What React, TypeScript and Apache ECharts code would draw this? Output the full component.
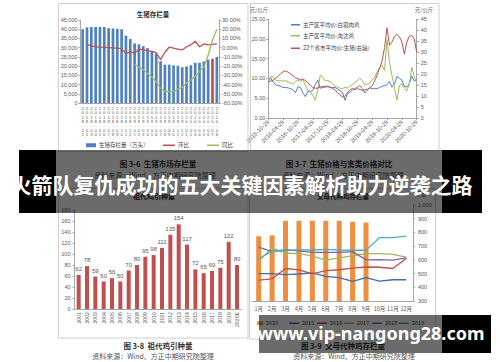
import React, { useEffect, useRef } from 'react';
import * as echarts from 'echarts';

// ---------- Figure 3-6: 生猪存栏量 ----------
const stockMonths: string[] = [];
for (let i = 0; i < 32; i++) {
  const y = 2018 + Math.floor(i / 12);
  const m = (i % 12) + 1;
  stockMonths.push(`${y}-${m < 10 ? '0' + m : m}`);
}
const hogStock = [40000, 41000, 41200, 41200, 41200, 41200, 40600, 40400, 40200, 40000, 36500, 34700, 32300, 31800, 30800, 29800, 28300, 26800, 22700, 20800, 20800, 20400, 20200, 19400, 19800, 20500, 21800, 21800, 22500, 23500, 24000, 25000];
const hogMoM = [null, 3.5, 2, 1, 0.5, 0.3, 0, -0.3, -0.5, -1, -6.5, -4.5, -6, -1.5, -2.5, -3.5, -4, -5.5, -13, -5, 0.5, -0.5, -1.5, -2.5, 1, 3, 7, 1, 4, 3, 3.5, 4];
const hogYoY = [null, null, null, null, null, null, null, null, null, null, null, null, -18, -21, -24, -28, -32, -37, -44, -47, -48, -47.5, -45, -43, -38, -35, -31, -26, -21, -8, 8, 20];

// ---------- Figure 3-7: 生猪价格与禽类价格对比 ----------
const priceDates: string[] = [];
for (let i = 0; i < 61; i++) {
  const t = 9 + i;
  const y = 2015 + Math.floor(t / 12);
  const m = (t % 12) + 1;
  priceDates.push(`${y}-${m < 10 ? '0' + m : m}-29`);
}
const broilerPrice = [9.3, 10.1, 9, 8.4, 8.2, 8, 7.7, 7.7, 7.6, 7.4, 7.1, 6.4, 7.9, 7.7, 6.3, 5.4, 6.8, 6.7, 7, 8.5, 9.6, 7.5, 7.7, 7.8, 7.9, 7.8, 7.7, 7.7, 7.3, 6.9, 6.4, 4.5, 6.1, 6.5, 7, 7.4, 7.8, 8.2, 7.5, 6.3, 7, 7.6, 7.4, 7.4, 7.4, 7.7, 8, 8.2, 8.4, 9.2, 7.8, 8.5, 10.5, 10, 9.6, 8, 7.8, 8.7, 10.6, 9.3, 9.8];
const henPrice = [9.2, 10.5, 10.4, 9.6, 9.4, 9.4, 9.3, 9.4, 9.2, 8.8, 8.6, 9.2, 9.6, 9.3, 9.7, 8.2, 7, 6.5, 5.8, 4.5, 7, 10.8, 10.3, 9.4, 9.5, 9.2, 8.6, 8, 7.8, 7.5, 7.4, 7.8, 7.6, 8, 8.4, 9, 9.5, 10.1, 9.5, 8.3, 8.6, 8.8, 9.6, 10.3, 11.6, 12.7, 13.3, 12, 19.8, 14, 10.8, 7.5, 4.5, 8.2, 8.7, 7.5, 6.8, 8.5, 12.8, 10.5, 8.8];
const hogPrice = [16.3, 16.8, 17.2, 18.2, 19, 20.2, 21, 21.4, 20.8, 20, 19.2, 18.3, 17.8, 17.5, 17.7, 17, 16, 14.8, 13.9, 13.5, 13.6, 14.1, 14.4, 14.4, 14.4, 13.9, 13.4, 12.8, 11.5, 10.3, 9.6, 9.9, 11.5, 12.8, 13.4, 13, 13.3, 13, 12.6, 12.8, 13, 13.8, 14.6, 16.8, 19.5, 22.5, 26, 32, 41, 33, 34.5, 37, 38, 37, 34.5, 29, 34.5, 37.2, 37.5, 36, 30];

// ---------- Figure 3-8: 祖代鸡引种量 ----------
const introYears = ['2001', '2002', '2003', '2004', '2005', '2006', '2007', '2008', '2009', '2010', '2011', '2012', '2013', '2014', '2015', '2016', '2017', '2018', '2019', '2020E'];
const introValues = [62, 78, 59, 50, 56, 50, 70, 80, 95, 98, 111, 135, 154, 117, 72, 65, 69, 75, 122, 80];

// ---------- Figure 3-9: 父母代种鸡存栏量 ----------
const monthLabels = ['1月', '2月', '3月', '4月', '5月', '6月', '7月', '8月', '9月', '10月', '11月', '12月'];
const stock2020 = [772, 778, 885, 885, 885, 885, 885, 878, 872];
const stock2015 = [500, 500, 492, 497, 505, 480, 470, 443, 470, 445, 455, 455];
const stock2016 = [452, 462, 537, 527, 498, 522, 528, 540, 548, 546, 537, 610];
const stock2017 = [590, 688, 648, 645, 628, 598, 614, 630, 645, 645, 640, 620];
const stock2018 = [693, 660, 673, 665, 655, 655, 655, 660, 600, 602, 598, 615];
const stock2019 = [610, 662, 672, 672, 672, 677, 672, 670, 670, 762, 762, 773];

const CJK = '"Noto Sans CJK SC", sans-serif';
const LAT = '"Liberation Sans", Arial, sans-serif';
const AX = '#a6a6a6';
const LBL = '#595959';

const BLUE = '#4F81BD';
const RED = '#C0504D';
const GREEN = '#9BBB59';
const PURPLE = '#8064A2';
const TEAL = '#4BACC6';
const ORANGE = '#EE8E3F';

function leg(name: string, left: number, top: number, w: number, h: number) {
  return {
    data: [name], left, top, icon: 'rect', itemWidth: w, itemHeight: h, padding: 0,
    textStyle: { fontSize: 5.5, color: '#404040', fontFamily: CJK, padding: [0, 0, 0, -2] },
  };
}

function txt(text: string, x: number, y: number, size: number, opts: any = {}) {
  return {
    type: 'text', x, y, z: opts.z ?? 5,
    style: {
      text, fontSize: size, fontWeight: opts.bold ? 'bold' : 'normal', fontFamily: opts.font ?? CJK,
      fill: opts.color ?? '#333', align: opts.align ?? 'center', verticalAlign: 'middle',
    },
  };
}

function frame(x: number, y: number, w: number, h: number) {
  return { type: 'rect', z: 1, shape: { x, y, width: w, height: h }, style: { fill: 'none', stroke: '#cfcfcf', lineWidth: 1 } };
}

export default function App() {
  const ref = useRef<HTMLDivElement>(null);
  useEffect(() => {
    if (!ref.current) return;
    const chart = echarts.init(ref.current, undefined, { renderer: 'svg' });
    const yLabel = (extra: any = {}) => ({ fontSize: 5.5, color: LBL, fontFamily: LAT, ...extra });
    const option: any = {
      animation: false,
      backgroundColor: '#ffffff',
      grid: [
        { left: 80.5, top: 20, width: 138.5, height: 83 },
        { left: 268.3, top: 19, width: 148.4, height: 99 },
        { left: 74.5, top: 210, width: 166.7, height: 99 },
        { left: 252, top: 205, width: 161, height: 96 },
      ],
      xAxis: [
        {
          type: 'category', gridIndex: 0, data: stockMonths,
          axisLine: { lineStyle: { color: AX } }, axisTick: { show: false },
          axisLabel: { interval: 0, fontSize: 4.3, lineHeight: 4.4, color: LBL, fontFamily: LAT, margin: 3, formatter: (s: string) => s.split('').join('\n') },
        },
        {
          type: 'category', gridIndex: 1, data: priceDates, boundaryGap: false,
          axisLine: { lineStyle: { color: AX } }, axisTick: { interval: 5, length: 2, lineStyle: { color: AX } },
          axisLabel: { interval: 5, rotate: 45, fontSize: 5.8, color: LBL, fontFamily: LAT, margin: 3 },
        },
        {
          type: 'category', gridIndex: 2, data: introYears,
          axisLine: { lineStyle: { color: AX } }, axisTick: { show: false },
          axisLabel: { interval: 0, rotate: 90, fontSize: 5.2, color: LBL, fontFamily: LAT, margin: 3 },
        },
        {
          type: 'category', gridIndex: 3, data: monthLabels,
          axisLine: { lineStyle: { color: AX } }, axisTick: { show: false },
          axisLabel: { interval: 0, fontSize: 5.5, color: LBL, fontFamily: CJK, margin: 5 },
        },
      ],
      yAxis: [
        {
          type: 'value', gridIndex: 0, min: 0, max: 45000, interval: 5000, position: 'left',
          splitLine: { show: false }, axisLine: { show: true, lineStyle: { color: AX } },
          axisTick: { show: true, length: 2, lineStyle: { color: AX } }, axisLabel: yLabel({ margin: 3 }),
        },
        {
          type: 'value', gridIndex: 0, min: -60, max: 30, interval: 10, position: 'right',
          splitLine: { show: false }, axisLine: { show: true, lineStyle: { color: AX } },
          axisTick: { show: true, length: 2, lineStyle: { color: AX } },
          axisLabel: yLabel({ margin: 3, formatter: (v: number) => v.toFixed(2) + '%' }),
        },
        {
          type: 'value', gridIndex: 1, min: 0, max: 25, interval: 5, position: 'left',
          splitLine: { show: false }, axisLine: { show: true, lineStyle: { color: AX } },
          axisTick: { show: true, length: 2, lineStyle: { color: AX } },
          axisLabel: yLabel({ margin: 3, formatter: (v: number) => v.toFixed(2) }),
        },
        {
          type: 'value', gridIndex: 1, min: 0, max: 45, interval: 5, position: 'right',
          splitLine: { show: false }, axisLine: { show: true, lineStyle: { color: AX } },
          axisTick: { show: true, length: 2, lineStyle: { color: AX } }, axisLabel: yLabel({ margin: 4 }),
        },
        {
          type: 'value', gridIndex: 2, min: 0, max: 180, interval: 20, position: 'left',
          splitLine: { show: false }, axisLine: { show: true, lineStyle: { color: AX } },
          axisTick: { show: true, length: 2, lineStyle: { color: AX } }, axisLabel: yLabel({ margin: 4 }),
        },
        {
          type: 'value', gridIndex: 3, min: 300, max: 1000, interval: 100, position: 'right',
          splitLine: { show: false }, axisLine: { show: true, lineStyle: { color: AX } },
          axisTick: { show: true, length: 2, lineStyle: { color: AX } }, axisLabel: yLabel({ margin: 5 }),
        },
      ],
      legend: [
        leg('生猪存栏量（万头）', 86, 142.5, 10, 4),
        leg('环比', 163, 142.5, 12, 1.5),
        leg('同比', 207, 142.5, 12, 1.5),
        leg('主产区平均价:白羽肉鸡', 291, 22, 9, 1.5),
        leg('主产区平均价:淘汰鸡', 291, 33, 9, 1.5),
        leg('22个省市平均价:生猪(右轴)', 291, 45.5, 9, 1.5),
        leg('2020', 257, 320.5, 6, 4),
        leg('2015', 289, 320.5, 10, 1.5),
        leg('2016', 317, 320.5, 10, 1.5),
        leg('2017', 344, 320.5, 10, 1.5),
        leg('2018', 372, 320.5, 10, 1.5),
        leg('2019', 399, 320.5, 10, 1.5),
      ],
      series: [
        {
          name: '生猪存栏量（万头）', type: 'bar', xAxisIndex: 0, yAxisIndex: 0, barWidth: 2.7,
          itemStyle: { color: BLUE },
          data: hogStock.map((v, i) => (i === 30 ? { value: v, itemStyle: { color: RED } } : v)),
        },
        { name: '环比', type: 'line', xAxisIndex: 0, yAxisIndex: 1, data: hogMoM, symbol: 'none', lineStyle: { color: RED, width: 1.3 }, itemStyle: { color: RED } },
        { name: '同比', type: 'line', xAxisIndex: 0, yAxisIndex: 1, data: hogYoY, symbol: 'none', lineStyle: { color: GREEN, width: 1.3 }, itemStyle: { color: GREEN } },

        { name: '主产区平均价:白羽肉鸡', type: 'line', xAxisIndex: 1, yAxisIndex: 2, data: broilerPrice, symbol: 'none', lineStyle: { color: BLUE, width: 1 }, itemStyle: { color: BLUE } },
        { name: '主产区平均价:淘汰鸡', type: 'line', xAxisIndex: 1, yAxisIndex: 2, data: henPrice, symbol: 'none', lineStyle: { color: GREEN, width: 1 }, itemStyle: { color: GREEN } },
        { name: '22个省市平均价:生猪(右轴)', type: 'line', xAxisIndex: 1, yAxisIndex: 3, data: hogPrice, symbol: 'none', lineStyle: { color: RED, width: 1 }, itemStyle: { color: RED } },

        {
          name: '祖代鸡引种量', type: 'bar', xAxisIndex: 2, yAxisIndex: 4, data: introValues, barWidth: 4,
          itemStyle: { color: RED },
          label: { show: true, position: 'top', distance: 3, fontSize: 6, color: LBL, fontFamily: LAT },
        },

        { name: '2020', type: 'bar', xAxisIndex: 3, yAxisIndex: 5, data: stock2020, barWidth: 5, itemStyle: { color: ORANGE } },
        { name: '2015', type: 'line', xAxisIndex: 3, yAxisIndex: 5, data: stock2015, symbol: 'none', lineStyle: { color: '#3E6DB5', width: 1.3 }, itemStyle: { color: '#3E6DB5' } },
        { name: '2016', type: 'line', xAxisIndex: 3, yAxisIndex: 5, data: stock2016, symbol: 'none', lineStyle: { color: RED, width: 1.3 }, itemStyle: { color: RED } },
        { name: '2017', type: 'line', xAxisIndex: 3, yAxisIndex: 5, data: stock2017, symbol: 'none', lineStyle: { color: GREEN, width: 1.3 }, itemStyle: { color: GREEN } },
        { name: '2018', type: 'line', xAxisIndex: 3, yAxisIndex: 5, data: stock2018, symbol: 'none', lineStyle: { color: PURPLE, width: 1.3 }, itemStyle: { color: PURPLE } },
        { name: '2019', type: 'line', xAxisIndex: 3, yAxisIndex: 5, data: stock2019, symbol: 'none', lineStyle: { color: TEAL, width: 1.3 }, itemStyle: { color: TEAL } },
      ],
      graphic: {
        elements: [
          frame(58.5, 3.5, 189.5, 148),
          frame(250.5, 3.5, 188.5, 147),
          frame(58.5, 188.5, 189.5, 149.5),
          frame(249.5, 188.5, 186, 150.5),
          txt('生猪存栏量', 153, 14, 6.5, { bold: true }),
          txt('元/公斤', 259, 10, 5.5, { color: LBL }),
          txt('元/公斤', 424, 10, 5.5, { color: LBL }),
          txt('祖代鸡引种量', 154, 196, 7, { bold: true }),
          txt('父母代种鸡存栏量', 343, 196, 6.5, { bold: true }),
          txt('万套', 421, 194, 5.5, { color: LBL }),
          txt('图 3-6  生猪市场存栏量', 158, 163, 7.5, { bold: true }),
          txt('图 3-7  生猪价格与禽类价格对比', 339, 163, 7.5, { bold: true }),
          txt('资料来源：Wind、方正中期研究院整理', 155, 175, 7, { color: '#555' }),
          txt('资料来源：Wind、方正中期研究院整理', 343, 175, 7, { color: '#555' }),
          txt('图 3-8  祖代鸡引种量', 158, 345, 7.5, { bold: true }),
          txt('图 3-9  父母代种鸡存栏量', 343, 345, 7.5, { bold: true }),
          txt('资料来源：Wind、方正中期研究院整理', 153, 356, 7, { color: '#555' }),
          txt('资料来源：Wind、方正中期研究院整理', 354, 356, 7, { color: '#555' }),
          // overlay band with title
          { type: 'rect', z: 100, shape: { x: 56, y: 150, width: 386, height: 63 }, style: { fill: 'rgba(0,0,0,0.58)' } },
          { type: 'rect', z: 100, shape: { x: 19, y: 150, width: 37, height: 63 }, style: { fill: '#000' } },
          { type: 'rect', z: 100, shape: { x: 442, y: 150, width: 40, height: 63 }, style: { fill: '#000' } },
          txt('火箭队复仇成功的五大关键因素解析助力逆袭之路', 241.5, 184, 21, { bold: true, color: '#fff', z: 101 }),
          // watermark band
          { type: 'rect', z: 100, shape: { x: 259, y: 315, width: 183, height: 38 }, style: { fill: 'rgba(0,0,0,0.58)' } },
          { type: 'rect', z: 100, shape: { x: 442, y: 315, width: 49, height: 38 }, style: { fill: '#000' } },
          txt('www.vip-nangong28.com', 371, 333, 18, { bold: true, color: '#fff', z: 101, font: '"Noto Sans", sans-serif' }),
        ],
      },
    };
    chart.setOption(option);
    return () => chart.dispose();
  }, []);
  return <div ref={ref} style={{ position: 'fixed', left: 0, top: 0, width: 500, height: 362 }} />;
}
